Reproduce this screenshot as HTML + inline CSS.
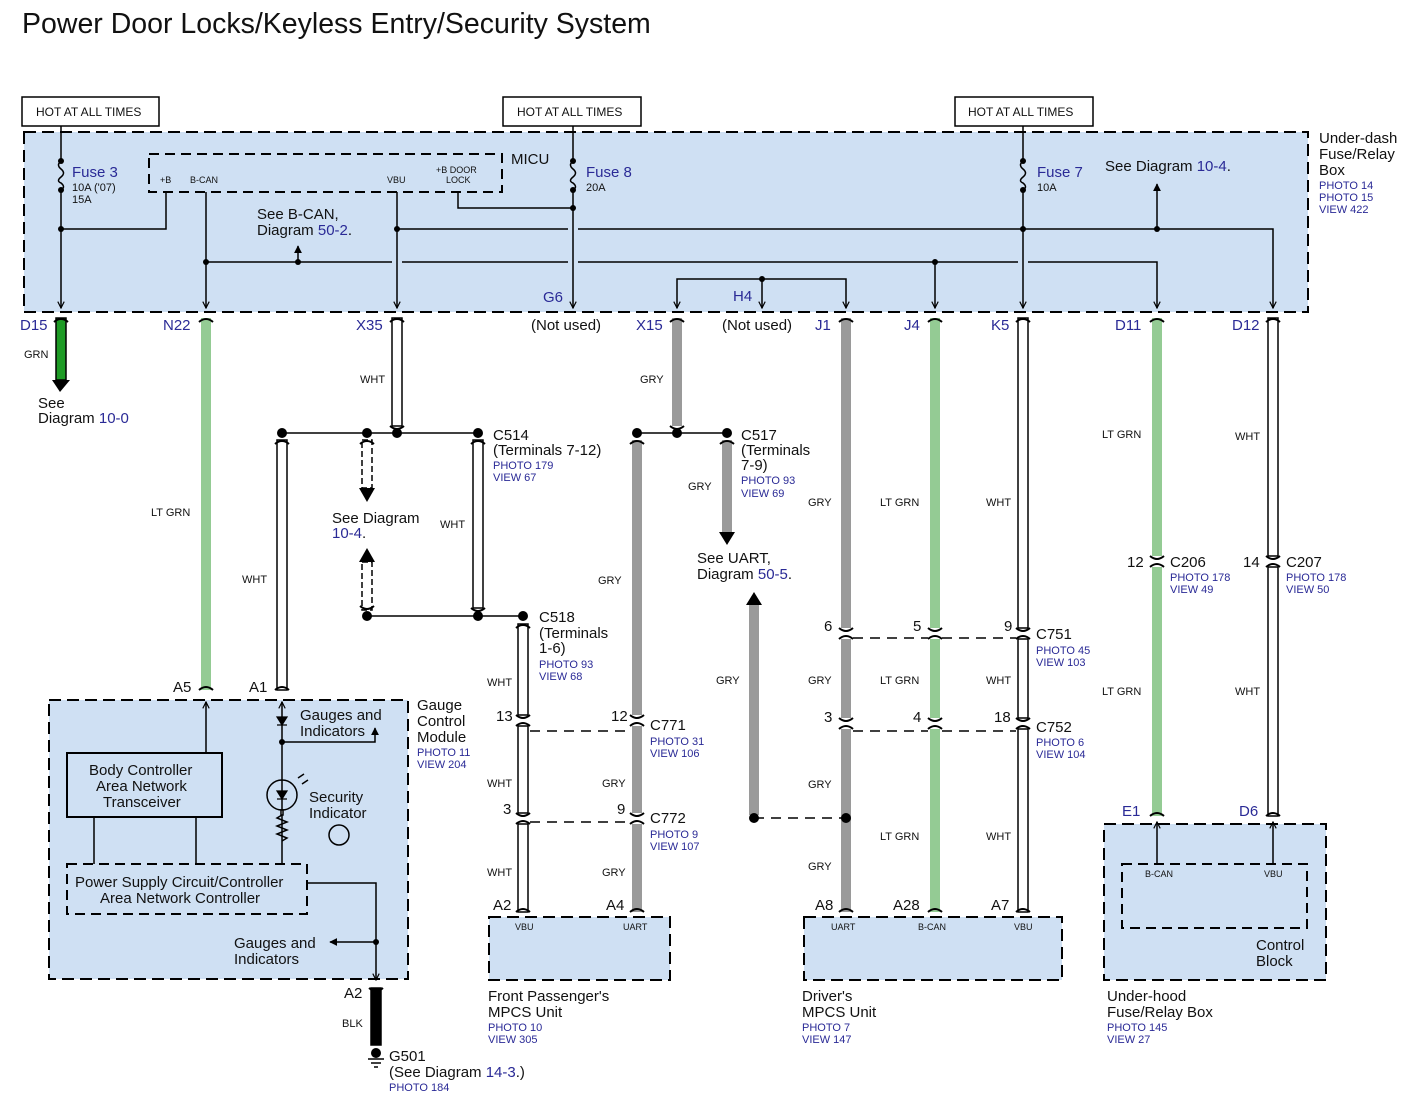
<!DOCTYPE html>
<html><head><meta charset="utf-8"><style>
html,body{margin:0;padding:0;background:#fff;}
svg{display:block;}
text{font-family:"Liberation Sans",sans-serif;fill:#111;}
.b{fill:#2a2a96;}
.s{font-size:11px;}
.h{font-size:12px;}
.m{font-size:15px;}
.p{font-size:11px;fill:#2a2a96;}
.t{font-size:9px;}
.w{font-size:11px;}
</style></head><body>
<svg width="1415" height="1103" viewBox="0 0 1415 1103" xmlns="http://www.w3.org/2000/svg">
<defs>
<marker id="ar" viewBox="0 0 10 10" refX="9" refY="5" markerWidth="8" markerHeight="8" orient="auto-start-reverse" markerUnits="userSpaceOnUse"><path d="M1,1 L9,5 L1,9" fill="none" stroke="#000" stroke-width="1.5"/></marker>
<marker id="fa" viewBox="0 0 10 10" refX="9" refY="5" markerWidth="8" markerHeight="8" orient="auto-start-reverse" markerUnits="userSpaceOnUse"><path d="M0,0 L10,5 L0,10z" fill="#000"/></marker>
</defs>
<text x="22" y="33" style="font-size:28.5px">Power Door Locks/Keyless Entry/Security System</text>

<g fill="#fff" stroke="#000" stroke-width="1.5">
<rect x="22" y="97" width="137" height="29"/><rect x="503" y="97" width="138" height="29"/><rect x="955" y="97" width="138" height="29"/>
</g>
<text x="36" y="116" class="h">HOT AT ALL TIMES</text>
<text x="517" y="116" class="h">HOT AT ALL TIMES</text>
<text x="968" y="116" class="h">HOT AT ALL TIMES</text>

<rect x="24" y="132" width="1284" height="180" fill="#cfe0f3" stroke="#000" stroke-width="2" stroke-dasharray="12,6"/>
<rect x="149" y="154" width="353" height="38" fill="none" stroke="#000" stroke-width="2" stroke-dasharray="10,6"/>
<text x="511" y="164" class="m">MICU</text>
<text x="160" y="183" class="t">+B</text><text x="190" y="183" class="t">B-CAN</text><text x="387" y="183" class="t">VBU</text>
<text x="436" y="173" class="t">+B DOOR</text><text x="446" y="183" class="t">LOCK</text>
<text x="1319" y="143" class="m">Under-dash</text><text x="1319" y="159" class="m">Fuse/Relay</text><text x="1319" y="175" class="m">Box</text>
<text x="1319" y="189" class="p">PHOTO 14</text><text x="1319" y="201" class="p">PHOTO 15</text><text x="1319" y="213" class="p">VIEW 422</text>

<g stroke="#000" stroke-width="1.5" fill="none">
<path d="M61,126 V161 M61,190 V308" marker-end="url(#ar)"/>
<path d="M61,161 q-5,4 0,8 q5,4 0,8 q-5,4 0,6 q5,4 0,7"/>
<path d="M61,229 H166 V192"/>
<path d="M206,192 V308" marker-end="url(#ar)"/>
<path d="M206,262 H392 M402,262 H568 M578,262 H1018 M1028,262 H1157 V308" marker-end="url(#ar)"/>
<path d="M298,262 V246" marker-end="url(#fa)"/>
<path d="M935,262 V308" marker-end="url(#ar)"/>
<path d="M397,192 V308" marker-end="url(#ar)"/>
<path d="M397,229 H568 M578,229 H1273 V308" marker-end="url(#ar)"/>
<path d="M1157,229 V184" marker-end="url(#fa)"/>
<path d="M458,192 V208 H573"/>
<path d="M573,126 V161 M573,190 V308" marker-end="url(#ar)"/>
<path d="M573,161 q-5,4 0,8 q5,4 0,8 q-5,4 0,6 q5,4 0,7"/>
<path d="M1023,126 V161 M1023,190 V308" marker-end="url(#ar)"/>
<path d="M1023,161 q-5,4 0,8 q5,4 0,8 q-5,4 0,6 q5,4 0,7"/>
<path d="M677,308 V279 H846 V308" marker-start="url(#ar)" marker-end="url(#ar)"/>
<path d="M762,279 V308" marker-end="url(#ar)"/>
</g>
<g fill="#000">
<circle cx="61" cy="161" r="3"/><circle cx="61" cy="190" r="3"/><circle cx="61" cy="229" r="3"/>
<circle cx="573" cy="161" r="3"/><circle cx="573" cy="190" r="3"/><circle cx="573" cy="208" r="3"/>
<circle cx="1023" cy="161" r="3"/><circle cx="1023" cy="190" r="3"/><circle cx="1023" cy="229" r="3"/>
<circle cx="206" cy="262" r="3"/><circle cx="298" cy="262" r="3"/><circle cx="935" cy="262" r="3"/>
<circle cx="397" cy="229" r="3"/><circle cx="1157" cy="229" r="3"/><circle cx="762" cy="279" r="3"/>
</g>
<text x="72" y="177" class="m b">Fuse 3</text><text x="72" y="191" class="s">10A ('07)</text><text x="72" y="203" class="s">15A</text>
<text x="586" y="177" class="m b">Fuse 8</text><text x="586" y="191" class="s">20A</text>
<text x="1037" y="177" class="m b">Fuse 7</text><text x="1037" y="191" class="s">10A</text>
<text x="257" y="219" class="m">See B-CAN,</text><text x="257" y="235" class="m">Diagram <tspan class="b">50-2</tspan>.</text>
<text x="1105" y="171" class="m">See Diagram <tspan class="b">10-4</tspan>.</text>
<text x="543" y="302" class="m b">G6</text><text x="733" y="301" class="m b">H4</text>

<g class="m">
<text x="20" y="330" class="b">D15</text><text x="163" y="330" class="b">N22</text><text x="356" y="330" class="b">X35</text>
<text x="531" y="330">(Not used)</text><text x="636" y="330" class="b">X15</text><text x="722" y="330">(Not used)</text>
<text x="815" y="330" class="b">J1</text><text x="904" y="330" class="b">J4</text><text x="991" y="330" class="b">K5</text>
<text x="1115" y="330" class="b">D11</text><text x="1232" y="330" class="b">D12</text>
</g>

<g stroke="#000" stroke-width="1.5">
<rect x="56" y="318" width="10" height="62" fill="#1e9b25"/>
<rect x="392" y="318" width="10" height="108" fill="#fff"/>
<rect x="277" y="440" width="10" height="250" fill="#fff"/>
<rect x="473" y="440" width="10" height="168" fill="#fff"/>
<rect x="518" y="624" width="10" height="91" fill="#fff"/>
<rect x="518" y="726" width="10" height="87" fill="#fff"/>
<rect x="518" y="824" width="10" height="88" fill="#fff"/>
<rect x="1018" y="318" width="10" height="310" fill="#fff"/>
<rect x="1018" y="639" width="10" height="79" fill="#fff"/>
<rect x="1018" y="729" width="10" height="183" fill="#fff"/>
<rect x="1268" y="318" width="10" height="238" fill="#fff"/>
<rect x="1268" y="567" width="10" height="249" fill="#fff"/>
<rect x="371" y="988" width="10" height="57" fill="#000"/>
</g>
<g fill="#94cb94">
<rect x="201" y="318" width="10" height="372"/>
<rect x="930" y="318" width="10" height="310"/><rect x="930" y="639" width="10" height="79"/><rect x="930" y="729" width="10" height="183"/>
<rect x="1152" y="318" width="10" height="238"/><rect x="1152" y="567" width="10" height="249"/>
</g>
<g fill="#9a9a9a">
<rect x="672" y="318" width="10" height="108"/>
<rect x="632" y="440" width="10" height="275"/><rect x="632" y="726" width="10" height="87"/><rect x="632" y="824" width="10" height="88"/>
<rect x="722" y="440" width="10" height="92"/>
<rect x="749" y="605" width="10" height="210"/>
<rect x="841" y="318" width="10" height="310"/><rect x="841" y="639" width="10" height="79"/><rect x="841" y="729" width="10" height="183"/>
</g>
<g stroke="#000" stroke-width="1.5" fill="#fff" stroke-dasharray="6,3">
<rect x="362" y="440" width="10" height="48"/><rect x="362" y="562" width="10" height="48"/>
</g>
<g fill="#000">
<path d="M60,392 L52,380 L70,380z"/>
<path d="M367,502 L359,488 L375,488z"/><path d="M367,548 L359,562 L375,562z"/>
<path d="M727,545 L719,532 L735,532z"/><path d="M754,592 L746,605 L762,605z"/>
</g>

<g stroke="#000" stroke-width="2" fill="none">
<path d="M54,322 Q61,316 68,322 M199,322 Q206,316 213,322 M390,322 Q397,316 404,322 M670,322 Q677,316 684,322 M839,322 Q846,316 853,322 M928,322 Q935,316 942,322 M1016,322 Q1023,316 1030,322 M1150,322 Q1157,316 1164,322 M1266,322 Q1273,316 1280,322"/>
<path d="M390,426 Q397,432 404,426 M670,426 Q677,432 684,426"/>
<path d="M275,444 Q282,438 289,444 M360,444 Q367,438 374,444 M471,444 Q478,438 485,444 M630,444 Q637,438 644,444 M720,444 Q727,438 734,444 M516,628 Q523,622 530,628"/>
<path d="M471,608 Q478,614 485,608 M360,606 Q367,612 374,606"/>
<path d="M199,690 Q206,684 213,690 M275,690 Q282,684 289,690"/>
<path d="M369,988 Q376,994 383,988"/>
<path d="M516,715 Q523,721 530,715 M516,726 Q523,720 530,726 M516,813 Q523,819 530,813 M516,824 Q523,818 530,824"/>
<path d="M630,715 Q637,721 644,715 M630,726 Q637,720 644,726 M630,813 Q637,819 644,813 M630,824 Q637,818 644,824"/>
<path d="M839,628 Q846,634 853,628 M839,639 Q846,633 853,639 M839,718 Q846,724 853,718 M839,729 Q846,723 853,729"/>
<path d="M928,628 Q935,634 942,628 M928,639 Q935,633 942,639 M928,718 Q935,724 942,718 M928,729 Q935,723 942,729"/>
<path d="M1016,628 Q1023,634 1030,628 M1016,639 Q1023,633 1030,639 M1016,718 Q1023,724 1030,718 M1016,729 Q1023,723 1030,729"/>
<path d="M1150,556 Q1157,562 1164,556 M1150,567 Q1157,561 1164,567 M1266,556 Q1273,562 1280,556 M1266,567 Q1273,561 1280,567"/>
<path d="M516,912 Q523,906 530,912 M630,912 Q637,906 644,912 M839,912 Q846,906 853,912 M928,912 Q935,906 942,912 M1016,912 Q1023,906 1030,912 M1150,816 Q1157,810 1164,816 M1266,816 Q1273,810 1280,816"/>
</g>
<g stroke="#000" stroke-width="1.5" fill="none">
<path d="M282,433 H478 M367,616 H523 M637,433 H727"/>
<path d="M530,731 H630 M530,822 H630 M853,638 H928 M942,638 H1016 M853,731 H928 M942,731 H1016 M754,818 H846" stroke-dasharray="10,7"/>
</g>
<g fill="#000">
<circle cx="282" cy="433" r="5"/><circle cx="367" cy="433" r="5"/><circle cx="397" cy="433" r="5"/><circle cx="478" cy="433" r="5"/>
<circle cx="367" cy="616" r="5"/><circle cx="478" cy="616" r="5"/><circle cx="523" cy="616" r="5"/>
<circle cx="637" cy="433" r="5"/><circle cx="677" cy="433" r="5"/><circle cx="727" cy="433" r="5"/>
<circle cx="754" cy="818" r="5"/><circle cx="846" cy="818" r="5"/>
</g>

<g class="w">
<text x="24" y="358">GRN</text><text x="151" y="516">LT GRN</text><text x="360" y="383">WHT</text><text x="242" y="583">WHT</text>
<text x="440" y="528">WHT</text><text x="640" y="383">GRY</text><text x="598" y="584">GRY</text><text x="688" y="490">GRY</text>
<text x="487" y="686">WHT</text><text x="487" y="787">WHT</text><text x="487" y="876">WHT</text>
<text x="602" y="787">GRY</text><text x="602" y="876">GRY</text><text x="716" y="684">GRY</text>
<text x="808" y="506">GRY</text><text x="808" y="684">GRY</text><text x="808" y="788">GRY</text><text x="808" y="870">GRY</text>
<text x="880" y="506">LT GRN</text><text x="880" y="684">LT GRN</text><text x="880" y="840">LT GRN</text>
<text x="986" y="506">WHT</text><text x="986" y="684">WHT</text><text x="986" y="840">WHT</text>
<text x="1102" y="438">LT GRN</text><text x="1102" y="695">LT GRN</text><text x="1235" y="440">WHT</text><text x="1235" y="695">WHT</text>
<text x="342" y="1027">BLK</text>
</g>

<g class="m">
<text x="38" y="408">See</text><text x="38" y="423">Diagram <tspan class="b">10-0</tspan></text>
<text x="332" y="523">See Diagram</text><text x="332" y="538" class="b">10-4<tspan fill="#111">.</tspan></text>
<text x="493" y="440">C514</text><text x="493" y="455">(Terminals 7-12)</text>
<text x="741" y="440">C517</text><text x="741" y="455">(Terminals</text><text x="741" y="470">7-9)</text>
<text x="697" y="563">See UART,</text><text x="697" y="579">Diagram <tspan class="b">50-5</tspan>.</text>
<text x="539" y="622">C518</text><text x="539" y="638">(Terminals</text><text x="539" y="653">1-6)</text>
<text x="496" y="721">13</text><text x="503" y="814">3</text><text x="611" y="721">12</text><text x="617" y="814">9</text>
<text x="650" y="730">C771</text><text x="650" y="823">C772</text>
<text x="824" y="631">6</text><text x="913" y="631">5</text><text x="1004" y="631">9</text><text x="1036" y="639">C751</text>
<text x="824" y="722">3</text><text x="913" y="722">4</text><text x="994" y="722">18</text><text x="1036" y="732">C752</text>
<text x="1127" y="567">12</text><text x="1170" y="567">C206</text><text x="1243" y="567">14</text><text x="1286" y="567">C207</text>
<text x="173" y="692">A5</text><text x="249" y="692">A1</text>
<text x="493" y="910">A2</text><text x="606" y="910">A4</text><text x="815" y="910">A8</text><text x="893" y="910">A28</text><text x="991" y="910">A7</text>
<text x="1122" y="816" class="b">E1</text><text x="1239" y="816" class="b">D6</text>
<text x="344" y="998">A2</text>
<text x="389" y="1061">G501</text><text x="389" y="1077">(See Diagram <tspan class="b">14-3</tspan>.)</text>
</g>
<g>
<text x="493" y="469" class="p">PHOTO 179</text><text x="493" y="481" class="p">VIEW 67</text>
<text x="741" y="484" class="p">PHOTO 93</text><text x="741" y="497" class="p">VIEW 69</text>
<text x="539" y="668" class="p">PHOTO 93</text><text x="539" y="680" class="p">VIEW 68</text>
<text x="650" y="745" class="p">PHOTO 31</text><text x="650" y="757" class="p">VIEW 106</text>
<text x="650" y="838" class="p">PHOTO 9</text><text x="650" y="850" class="p">VIEW 107</text>
<text x="1036" y="654" class="p">PHOTO 45</text><text x="1036" y="666" class="p">VIEW 103</text>
<text x="1036" y="746" class="p">PHOTO 6</text><text x="1036" y="758" class="p">VIEW 104</text>
<text x="1170" y="581" class="p">PHOTO 178</text><text x="1170" y="593" class="p">VIEW 49</text>
<text x="1286" y="581" class="p">PHOTO 178</text><text x="1286" y="593" class="p">VIEW 50</text>
<text x="389" y="1091" class="p">PHOTO 184</text>
</g>

<rect x="49" y="700" width="359" height="279" fill="#cfe0f3" stroke="#000" stroke-width="2" stroke-dasharray="12,6"/>
<rect x="67" y="753" width="155" height="64" fill="none" stroke="#000" stroke-width="2"/>
<rect x="67" y="864" width="240" height="50" fill="none" stroke="#000" stroke-width="2" stroke-dasharray="10,6"/>
<g stroke="#000" stroke-width="1.5" fill="none">
<path d="M206,753 V702" marker-end="url(#ar)"/>
<path d="M282,864 V702" marker-end="url(#ar)"/>
<path d="M282,742 H375 V728" marker-end="url(#fa)"/>
<path d="M94,817 V864 M196,817 V864"/>
<path d="M307,883 H376 V980" marker-end="url(#ar)"/>
<path d="M376,942 H330" marker-end="url(#fa)"/>
<circle cx="282" cy="795" r="15"/>
<path d="M282,815 l-5,3 l10,4 l-10,4 l10,4 l-10,4 l10,4 l-5,3"/>
<circle cx="339" cy="835" r="10"/>
<path d="M298,778 l6,-4 M302,784 l6,-4"/>
</g>
<g fill="#fff" stroke="#000" stroke-width="1.5"><rect x="281" y="810" width="2" height="5"/></g>
<path d="M277,717 h10 l-5,8z M277,725 h10" fill="#000" stroke="#000" stroke-width="1.2"/>
<path d="M277,791 h10 l-5,8z M277,799 h10" fill="#000" stroke="#000" stroke-width="1.2"/>
<g fill="#000"><circle cx="282" cy="742" r="3"/><circle cx="376" cy="942" r="3"/></g>
<g class="m">
<text x="89" y="775">Body Controller</text><text x="96" y="791">Area Network</text><text x="103" y="807">Transceiver</text>
<text x="75" y="887">Power Supply Circuit/Controller</text><text x="100" y="903">Area Network Controller</text>
<text x="300" y="720">Gauges and</text><text x="300" y="736">Indicators</text>
<text x="309" y="802">Security</text><text x="309" y="818">Indicator</text>
<text x="234" y="948">Gauges and</text><text x="234" y="964">Indicators</text>
<text x="417" y="710">Gauge</text><text x="417" y="726">Control</text><text x="417" y="742">Module</text>
</g>
<text x="417" y="756" class="p">PHOTO 11</text><text x="417" y="768" class="p">VIEW 204</text>

<circle cx="376" cy="1053" r="5" fill="#000"/>
<path d="M368,1059 h16 M371,1063 h10 M374,1067 h4" stroke="#000" stroke-width="1.5"/>

<g fill="#cfe0f3" stroke="#000" stroke-width="2" stroke-dasharray="12,6">
<rect x="489" y="917" width="181" height="63"/>
<rect x="804" y="917" width="258" height="63"/>
<rect x="1104" y="824" width="222" height="156"/>
</g>
<rect x="1122" y="864" width="185" height="64" fill="none" stroke="#000" stroke-width="2" stroke-dasharray="10,6"/>
<g stroke="#000" stroke-width="1.5" fill="none">
<path d="M1157,864 V822" marker-end="url(#ar)"/><path d="M1273,864 V822" marker-end="url(#ar)"/>
</g>
<g class="t">
<text x="515" y="930">VBU</text><text x="623" y="930">UART</text>
<text x="831" y="930">UART</text><text x="918" y="930">B-CAN</text><text x="1014" y="930">VBU</text>
<text x="1145" y="877">B-CAN</text><text x="1264" y="877">VBU</text>
</g>
<g class="m">
<text x="1256" y="950">Control</text><text x="1256" y="966">Block</text>
<text x="488" y="1001">Front Passenger's</text><text x="488" y="1017">MPCS Unit</text>
<text x="802" y="1001">Driver's</text><text x="802" y="1017">MPCS Unit</text>
<text x="1107" y="1001">Under-hood</text><text x="1107" y="1017">Fuse/Relay Box</text>
</g>
<text x="488" y="1031" class="p">PHOTO 10</text><text x="488" y="1043" class="p">VIEW 305</text>
<text x="802" y="1031" class="p">PHOTO 7</text><text x="802" y="1043" class="p">VIEW 147</text>
<text x="1107" y="1031" class="p">PHOTO 145</text><text x="1107" y="1043" class="p">VIEW 27</text>
</svg>
</body></html>
